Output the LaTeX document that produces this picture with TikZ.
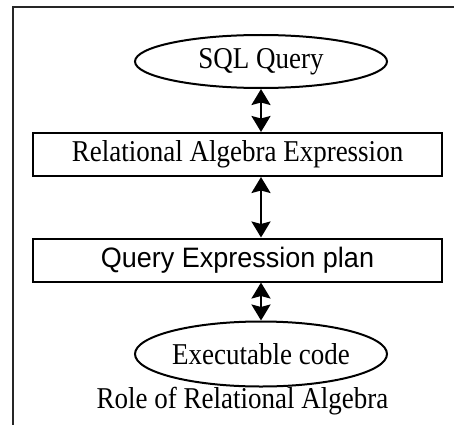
\documentclass[tikz,border=0pt]{standalone}
\usepackage{fontspec}
\usepackage{graphicx}
\setmainfont{Liberation Serif}
\newfontfamily\arialfont{Liberation Sans}
\usetikzlibrary{shapes.geometric,arrows.meta}
\newcommand{\tallserif}[1]{\scalebox{1}[1.12]{#1}}
\newcommand{\tallsans}[1]{\scalebox{1}[1.04]{#1}}
\begin{document}
\begin{tikzpicture}[x=1pt,y=-1pt,
  every node/.style={font=\fontsize{27}{32}\selectfont},
  ovalnode/.style={ellipse,draw,line width=2pt,inner sep=0pt,minimum width=252pt,minimum height=53pt},
  boxnode/.style={rectangle,draw,line width=2pt,inner sep=0pt,minimum width=409pt,minimum height=43pt},
  biarrow/.style={line width=2.2pt,{Stealth[length=16pt,width=19pt,inset=2.5pt]}-{Stealth[length=16pt,width=19pt,inset=2.5pt]}}
]
\useasboundingbox (0,0) rectangle (454,425);
\draw[line width=2pt,draw=black!85] (454,7) -- (13,7) -- (13,425);
\node[ovalnode] (sql) at (261,61.5) {\tallserif{SQL Query}};
\node[boxnode] (rae) at (237.5,154.5) {\tallserif{Relational Algebra Expression}};
\node[boxnode,font=\arialfont\fontsize{27}{32}\selectfont] (qep) at (237.5,260) {\tallsans{Query Expression plan}};
\node[ovalnode,minimum height=65pt] (exe) at (261,354) {\tallserif{Executable code}};
\node (cap) at (242.5,401) {\tallserif{Role of Relational Algebra}};
\draw[biarrow] (sql.south) -- (sql.south |- rae.north);
\draw[biarrow] (rae.south -| sql.south) -- (qep.north -| sql.south);
\draw[biarrow] (qep.south -| exe.north) -- (exe.north);
\end{tikzpicture}
\end{document}
